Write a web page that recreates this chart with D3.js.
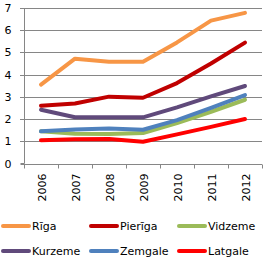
<!DOCTYPE html>
<html><head><meta charset="utf-8">
<script src="https://cdn.jsdelivr.net/npm/d3@7"></script>
<style>body{margin:0;background:#fff}svg{display:block}</style>
</head><body>
<script>
const years = ["2006","2007","2008","2009","2010","2011","2012"];
const yTicks = [0,1,2,3,4,5,6,7];
const seriesNames = ["Rīga","Pierīga","Vidzeme","Kurzeme","Zemgale","Latgale"];
const riga    = [3.55,4.72,4.58,4.58,5.45,6.43,6.78];
const pieriga = [2.60,2.70,3.01,2.96,3.62,4.50,5.44];
const vidzeme = [1.45,1.34,1.33,1.37,1.82,2.33,2.87];
const kurzeme = [2.42,2.08,2.08,2.08,2.53,3.02,3.49];
const zemgale = [1.45,1.53,1.58,1.52,1.95,2.50,3.08];
const latgale = [1.05,1.09,1.10,0.98,1.31,1.65,2.00];
const colors = ["#F79646","#C00000","#9BBB59","#604A7B","#4F81BD","#FF0000"];
const values = [riga,pieriga,vidzeme,kurzeme,zemgale,latgale];

const W=263,H=264;
const svg=d3.select("body").append("svg").attr("width",W).attr("height",H);
const m={left:24,right:1};
const x=d3.scaleBand().domain(years).range([m.left,W-m.right]);
const y=d3.scaleLinear().domain([0,7]).range([163.5,8]);
const font="'DejaVu Sans', Verdana, sans-serif";
const fs="11px";

// gridlines
svg.append("g").selectAll("line").data(yTicks.filter(d=>d>0)).join("line")
  .attr("x1",m.left-4).attr("x2",W-m.right).attr("y1",d=>Math.round(y(d))+0.5).attr("y2",d=>Math.round(y(d))+0.5)
  .attr("stroke","#868686").attr("stroke-width",1);

// y axis
const ya=svg.append("g").attr("transform",`translate(${m.left+0.5},0)`)
  .call(d3.axisLeft(y).tickValues(yTicks).tickSize(4).tickPadding(9).tickFormat(d3.format("d")));
ya.select(".domain").attr("stroke","#868686").attr("d",`M-4,${y(0)}H0V${y(7)}`);
ya.selectAll(".tick line").attr("stroke","#868686");
ya.selectAll(".tick text").attr("font-family",font).attr("font-size",fs).attr("fill","#000");
ya.selectAll(".tick").attr("transform",d=>`translate(0,${Math.round(y(d))+0.5})`);

// x axis
const xa=svg.append("g").attr("transform",`translate(0,${Math.round(y(0))+0.5})`);
xa.append("line").attr("x1",m.left).attr("x2",W-m.right).attr("stroke","#868686");
const bounds=years.map(d=>x(d)).concat([x(years[years.length-1])+x.bandwidth()]);
xa.selectAll("line.tk").data(bounds).join("line").attr("class","tk")
  .attr("x1",d=>Math.round(d)+0.5).attr("x2",d=>Math.round(d)+0.5).attr("y1",0).attr("y2",4).attr("stroke","#868686");
xa.selectAll("text").data(years).join("text")
  .attr("transform",d=>`translate(${x(d)+x.bandwidth()/2+4.5},9) rotate(-90)`)
  .attr("text-anchor","end").attr("font-family",font).attr("font-size",fs).text(d=>d);

// lines
const line=d3.line().x((d,i)=>x(years[i])+x.bandwidth()/2).y(d=>y(d));
const order=[2,4,5,3,1,0];
svg.append("g").selectAll("path").data(order).join("path")
  .attr("d",i=>line(values[i])).attr("fill","none").attr("stroke",i=>colors[i])
  .attr("stroke-width",4).attr("stroke-linejoin","round").attr("stroke-linecap","round");

// legend
const lx=[2,90,178], ly=[226,251];
const lg=svg.append("g").selectAll("g").data(seriesNames).join("g")
  .attr("transform",(d,i)=>`translate(${lx[i%3]},${ly[Math.floor(i/3)]})`);
lg.append("line").attr("x1",1).attr("x2",27).attr("stroke",(d,i)=>colors[i]).attr("stroke-width",4).attr("stroke-linecap","round");
lg.append("text").attr("x",30).attr("y",4).attr("font-family",font).attr("font-size",fs).text(d=>d);
</script>
</body></html>
